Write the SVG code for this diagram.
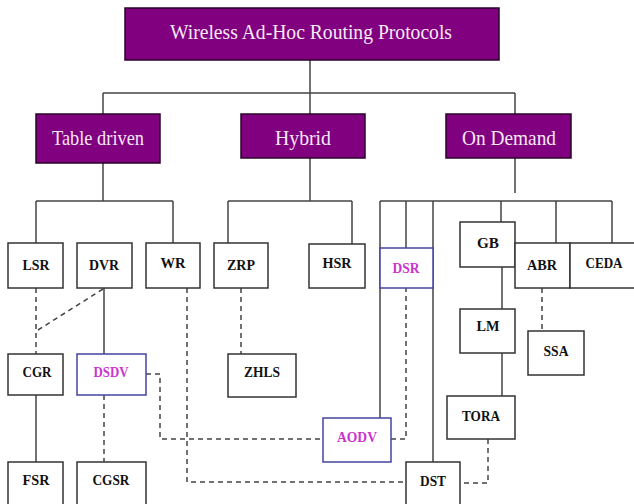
<svg xmlns="http://www.w3.org/2000/svg" width="634" height="504" viewBox="0 0 634 504">
<style>
.hdr{fill:#800080;stroke:#2a002a;stroke-width:1.5}
.ht{font-family:"Liberation Serif",serif;font-size:21px;fill:#f6eaf6;text-anchor:middle}
.leaf{fill:#ffffff;stroke:#333333;stroke-width:1.5}
.blue{fill:#ffffff;stroke:#4444a0;stroke-width:1.5}
.lt{font-family:"Liberation Serif",serif;font-weight:bold;font-size:15px;fill:#111111;text-anchor:middle}
.mt{font-family:"Liberation Serif",serif;font-weight:bold;font-size:15px;fill:#cc33cc;text-anchor:middle}
.s{fill:none;stroke:#444444;stroke-width:1.5}
.d{fill:none;stroke:#444444;stroke-width:1.5;stroke-dasharray:5 4}
</style>
<rect width="634" height="504" fill="#ffffff"/>
<g id="connectors">
<path class="s" d="M310 60V93M103 93H515M103 93V114M310 93V114M515 93V114"/>
<path class="s" d="M103 163V201M36 201H173M36 201V243M173 201V243"/>
<path class="s" d="M310 158V201M228 201H352M228 201V243M352 201V244"/>
<path class="s" d="M515 158V193M380 201H612M406 201V248M380 201V418M433 201V462M501 201V222M556 201V243M612 201V243"/>
<path class="s" d="M502 267V309M502 353V396"/>
<path class="s" d="M104 288V354M36 395V462"/>
<path class="d" d="M36 288V354M103 289L38 330M104 395V462"/>
<path class="d" d="M187 288V482H406"/>
<path class="d" d="M146 374H160V439H323"/>
<path class="d" d="M241 288V354"/>
<path class="d" d="M391 439H406V288"/>
<path class="d" d="M542 288V331"/>
<path class="d" d="M488 439V483H460"/>
</g>
<g id="root"><rect class="hdr" x="125" y="8" width="374" height="52"/><text class="ht" x="311" y="39" textLength="282" lengthAdjust="spacingAndGlyphs">Wireless Ad-Hoc Routing Protocols</text></g>
<g id="table-driven"><rect class="hdr" x="36" y="114" width="124" height="49"/><text class="ht" x="98" y="145" textLength="92" lengthAdjust="spacingAndGlyphs">Table driven</text></g>
<g id="hybrid"><rect class="hdr" x="241" y="114" width="124" height="44"/><text class="ht" x="303" y="145" textLength="56" lengthAdjust="spacingAndGlyphs">Hybrid</text></g>
<g id="on-demand"><rect class="hdr" x="446" y="114" width="125" height="44"/><text class="ht" x="509" y="145" textLength="94" lengthAdjust="spacingAndGlyphs">On Demand</text></g>
<g id="lsr"><rect class="leaf" x="8" y="243" width="55" height="45"/><text class="lt" x="36" y="270" textLength="27" lengthAdjust="spacingAndGlyphs">LSR</text></g>
<g id="dvr"><rect class="leaf" x="77" y="243" width="55" height="45"/><text class="lt" x="104" y="270" textLength="30" lengthAdjust="spacingAndGlyphs">DVR</text></g>
<g id="wr"><rect class="leaf" x="146" y="243" width="54" height="45"/><text class="lt" x="173" y="268" textLength="25" lengthAdjust="spacingAndGlyphs">WR</text></g>
<g id="zrp"><rect class="leaf" x="214" y="243" width="54" height="45"/><text class="lt" x="241" y="270" textLength="28" lengthAdjust="spacingAndGlyphs">ZRP</text></g>
<g id="hsr"><rect class="leaf" x="309" y="244" width="56" height="44"/><text class="lt" x="337" y="268" textLength="29" lengthAdjust="spacingAndGlyphs">HSR</text></g>
<g id="dsr"><rect class="blue" x="380" y="248" width="53" height="40"/><text class="mt" x="406" y="273" textLength="27" lengthAdjust="spacingAndGlyphs">DSR</text></g>
<g id="gb"><rect class="leaf" x="460" y="222" width="55" height="45"/><text class="lt" x="488" y="248" textLength="22" lengthAdjust="spacingAndGlyphs">GB</text></g>
<g id="abr"><rect class="leaf" x="515" y="243" width="55" height="45"/><text class="lt" x="542" y="270" textLength="30" lengthAdjust="spacingAndGlyphs">ABR</text></g>
<g id="ceda"><rect class="leaf" x="570" y="243" width="70" height="45"/><text class="lt" x="604" y="268" textLength="37" lengthAdjust="spacingAndGlyphs">CEDA</text></g>
<g id="lm"><rect class="leaf" x="460" y="309" width="55" height="44"/><text class="lt" x="488" y="331" textLength="23" lengthAdjust="spacingAndGlyphs">LM</text></g>
<g id="ssa"><rect class="leaf" x="528" y="331" width="56" height="44"/><text class="lt" x="556" y="356" textLength="25" lengthAdjust="spacingAndGlyphs">SSA</text></g>
<g id="cgr"><rect class="leaf" x="8" y="354" width="55" height="41"/><text class="lt" x="37" y="377" textLength="29" lengthAdjust="spacingAndGlyphs">CGR</text></g>
<g id="dsdv"><rect class="blue" x="77" y="354" width="69" height="41"/><text class="mt" x="111" y="377" textLength="35" lengthAdjust="spacingAndGlyphs">DSDV</text></g>
<g id="zhls"><rect class="leaf" x="228" y="354" width="68" height="43"/><text class="lt" x="262" y="377" textLength="36" lengthAdjust="spacingAndGlyphs">ZHLS</text></g>
<g id="tora"><rect class="leaf" x="447" y="396" width="68" height="43"/><text class="lt" x="481" y="421" textLength="38" lengthAdjust="spacingAndGlyphs">TORA</text></g>
<g id="aodv"><rect class="blue" x="323" y="418" width="68" height="44"/><text class="mt" x="357" y="442" textLength="40" lengthAdjust="spacingAndGlyphs">AODV</text></g>
<g id="fsr"><rect class="leaf" x="8" y="462" width="55" height="46"/><text class="lt" x="36" y="485" textLength="27" lengthAdjust="spacingAndGlyphs">FSR</text></g>
<g id="cgsr"><rect class="leaf" x="77" y="462" width="69" height="46"/><text class="lt" x="111" y="485" textLength="37" lengthAdjust="spacingAndGlyphs">CGSR</text></g>
<g id="dst"><rect class="leaf" x="406" y="462" width="54" height="46"/><text class="lt" x="433" y="486" textLength="26" lengthAdjust="spacingAndGlyphs">DST</text></g>
</svg>
